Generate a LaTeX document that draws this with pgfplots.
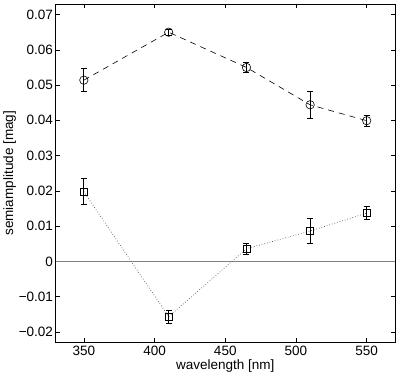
\documentclass[border=0pt]{standalone}
\usepackage{fontspec}
\setmainfont{Liberation Sans}
\usepackage{pgfplots}
\pgfplotsset{compat=1.18}
\begin{document}
\begin{tikzpicture}
\begin{axis}[
  scale only axis, width=339pt, height=338pt,
  xmin=330, xmax=570, ymin=-0.023, ymax=0.073,
  xtick={350,400,450,500,550},
  ytick={-0.02,-0.01,0,0.01,0.02,0.03,0.04,0.05,0.06,0.07},
  yticklabels={−0.02,−0.01,0,0.01,0.02,0.03,0.04,0.05,0.06,0.07},
  xticklabels={350,400,450,500,550},
  tick align=inside, tick pos=both,
  major tick length=4pt,
  every tick/.style={black, line width=0.6pt},
  axis line style={line width=0.9pt},
  font=\fontsize{13.5}{16}\selectfont,
  xlabel={wavelength [nm]}, ylabel={semiamplitude [mag]},
  xlabel style={yshift=3pt}, ylabel style={yshift=-4pt},
  yticklabel style={xshift=1pt},
  scaled y ticks=false,
  clip=false,
]
\addplot[gray, line width=0.8pt, forget plot] coordinates {(330,0) (570,0)};
\addplot[black, dashed, dash pattern=on 6pt off 5pt, line width=0.6pt, mark=o, mark size=4.2pt,
  mark options={solid, fill=white},
  error bars/.cd, y dir=both, y explicit, error bar style={solid, line width=0.7pt},
  error mark options={rotate=90, mark size=3pt, line width=0.7pt}]
coordinates {
(350,0.0514) +- (0,0.0033)
(410,0.0650) +- (0,0.0008)
(465,0.0550) +- (0,0.0014)
(510,0.0444) +- (0,0.0038)
(550,0.0399) +- (0,0.0016)
};
\addplot[gray!70!black, dotted, line width=0.7pt, mark=square, mark size=3.4pt,
  mark options={solid, black, fill=white},
  error bars/.cd, y dir=both, y explicit, error bar style={solid, black, line width=0.7pt},
  error mark options={rotate=90, mark size=3pt, line width=0.7pt, black}]
coordinates {
(350,0.0198) +- (0,0.0037)
(410,-0.0157) +- (0,0.0019)
(465,0.0036) +- (0,0.0016)
(510,0.0086) +- (0,0.0036)
(550,0.0137) +- (0,0.0019)
};
\path (rel axis cs:1,1) ++(4pt,4pt) coordinate (tr);
\path (tr) -- (tr);
\end{axis}
\end{tikzpicture}
\end{document}
